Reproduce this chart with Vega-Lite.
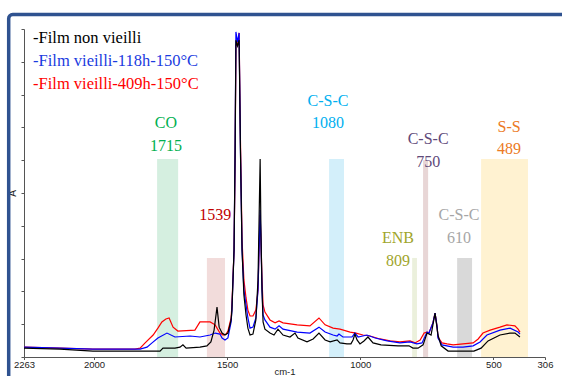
{
  "$schema": "https://vega.github.io/schema/vega-lite/v6.json",
  "width": 521,
  "height": 328,
  "autosize": {"type": "none"},
  "padding": {"left": 24, "top": 29, "right": 17, "bottom": 19},
  "background": "white",
  "config": {
    "view": {"stroke": null},
    "font": "Liberation Sans",
    "axisX": {"format": "d", "grid": false,
      "labelFont": "Liberation Sans", "labelFontSize": 9.5, "labelColor": "#222222", "labelFlush": false, "labelPadding": 0, "labelOverlap": false,
      "tickSize": 2.5, "tickColor": "#555555", "domainColor": "#555555",
      "titleFont": "Liberation Sans", "titleFontSize": 9.5, "titleFontWeight": "normal", "titleColor": "#222222", "titlePadding": -3},
    "axisY": {"labels": false, "grid": false,
      "tickSize": 3, "tickColor": "#555555", "domainColor": "#555555",
      "titleFont": "Liberation Sans", "titleFontSize": 10, "titleFontWeight": "normal", "titleColor": "#222222", "titlePadding": 3}
  },
  "datasets": {
    "spectra": [
      {"w":2263,"a":0.030,"s":"409h"},{"w":2128,"a":0.027,"s":"409h"},{"w":2004,"a":0.024,"s":"409h"},{"w":1846,"a":0.024,"s":"409h"},{"w":1827,"a":0.027,"s":"409h"},{"w":1808,"a":0.043,"s":"409h"},{"w":1778,"a":0.067,"s":"409h"},{"w":1760,"a":0.088,"s":"409h"},{"w":1745,"a":0.107,"s":"409h"},{"w":1730,"a":0.116,"s":"409h"},{"w":1718,"a":0.119,"s":"409h"},{"w":1703,"a":0.091,"s":"409h"},{"w":1685,"a":0.079,"s":"409h"},{"w":1621,"a":0.082,"s":"409h"},{"w":1602,"a":0.107,"s":"409h"},{"w":1564,"a":0.107,"s":"409h"},{"w":1545,"a":0.098,"s":"409h"},{"w":1527,"a":0.073,"s":"409h"},{"w":1515,"a":0.067,"s":"409h"},{"w":1504,"a":0.070,"s":"409h"},{"w":1497,"a":0.079,"s":"409h"},{"w":1485,"a":0.119,"s":"409h"},{"w":1482,"a":0.159,"s":"409h"},{"w":1474,"a":0.326,"s":"409h"},{"w":1470,"a":0.601,"s":"409h"},{"w":1467,"a":0.951,"s":"409h"},{"w":1461,"a":0.951,"s":"409h"},{"w":1455,"a":0.988,"s":"409h"},{"w":1450,"a":0.662,"s":"409h"},{"w":1444,"a":0.357,"s":"409h"},{"w":1437,"a":0.235,"s":"409h"},{"w":1429,"a":0.180,"s":"409h"},{"w":1422,"a":0.143,"s":"409h"},{"w":1414,"a":0.125,"s":"409h"},{"w":1403,"a":0.125,"s":"409h"},{"w":1392,"a":0.143,"s":"409h"},{"w":1384,"a":0.204,"s":"409h"},{"w":1380,"a":0.326,"s":"409h"},{"w":1376,"a":0.433,"s":"409h"},{"w":1373,"a":0.357,"s":"409h"},{"w":1369,"a":0.235,"s":"409h"},{"w":1365,"a":0.159,"s":"409h"},{"w":1358,"a":0.137,"s":"409h"},{"w":1339,"a":0.113,"s":"409h"},{"w":1320,"a":0.104,"s":"409h"},{"w":1305,"a":0.110,"s":"409h"},{"w":1290,"a":0.104,"s":"409h"},{"w":1237,"a":0.098,"s":"409h"},{"w":1189,"a":0.095,"s":"409h"},{"w":1155,"a":0.119,"s":"409h"},{"w":1132,"a":0.098,"s":"409h"},{"w":1102,"a":0.088,"s":"409h"},{"w":1076,"a":0.085,"s":"409h"},{"w":1038,"a":0.076,"s":"409h"},{"w":1016,"a":0.073,"s":"409h"},{"w":990,"a":0.067,"s":"409h"},{"w":963,"a":0.064,"s":"409h"},{"w":926,"a":0.055,"s":"409h"},{"w":888,"a":0.049,"s":"409h"},{"w":851,"a":0.046,"s":"409h"},{"w":813,"a":0.049,"s":"409h"},{"w":794,"a":0.043,"s":"409h"},{"w":775,"a":0.052,"s":"409h"},{"w":760,"a":0.073,"s":"409h"},{"w":749,"a":0.076,"s":"409h"},{"w":742,"a":0.073,"s":"409h"},{"w":727,"a":0.104,"s":"409h"},{"w":719,"a":0.134,"s":"409h"},{"w":711,"a":0.091,"s":"409h"},{"w":708,"a":0.061,"s":"409h"},{"w":693,"a":0.043,"s":"409h"},{"w":674,"a":0.040,"s":"409h"},{"w":651,"a":0.037,"s":"409h"},{"w":614,"a":0.040,"s":"409h"},{"w":576,"a":0.043,"s":"409h"},{"w":557,"a":0.055,"s":"409h"},{"w":539,"a":0.073,"s":"409h"},{"w":512,"a":0.082,"s":"409h"},{"w":475,"a":0.091,"s":"409h"},{"w":449,"a":0.098,"s":"409h"},{"w":419,"a":0.095,"s":"409h"},{"w":407,"a":0.085,"s":"409h"},{"w":400,"a":0.076,"s":"409h"},
      {"w":2263,"a":0.030,"s":"118h"},{"w":2128,"a":0.027,"s":"118h"},{"w":2004,"a":0.024,"s":"118h"},{"w":1827,"a":0.024,"s":"118h"},{"w":1801,"a":0.030,"s":"118h"},{"w":1782,"a":0.043,"s":"118h"},{"w":1760,"a":0.058,"s":"118h"},{"w":1726,"a":0.073,"s":"118h"},{"w":1696,"a":0.061,"s":"118h"},{"w":1639,"a":0.064,"s":"118h"},{"w":1602,"a":0.061,"s":"118h"},{"w":1564,"a":0.067,"s":"118h"},{"w":1545,"a":0.073,"s":"118h"},{"w":1527,"a":0.070,"s":"118h"},{"w":1519,"a":0.058,"s":"118h"},{"w":1508,"a":0.052,"s":"118h"},{"w":1497,"a":0.058,"s":"118h"},{"w":1485,"a":0.107,"s":"118h"},{"w":1482,"a":0.143,"s":"118h"},{"w":1474,"a":0.326,"s":"118h"},{"w":1470,"a":0.631,"s":"118h"},{"w":1467,"a":0.991,"s":"118h"},{"w":1461,"a":0.960,"s":"118h"},{"w":1455,"a":0.988,"s":"118h"},{"w":1450,"a":0.631,"s":"118h"},{"w":1444,"a":0.326,"s":"118h"},{"w":1437,"a":0.204,"s":"118h"},{"w":1429,"a":0.159,"s":"118h"},{"w":1422,"a":0.119,"s":"118h"},{"w":1414,"a":0.088,"s":"118h"},{"w":1403,"a":0.091,"s":"118h"},{"w":1392,"a":0.119,"s":"118h"},{"w":1384,"a":0.204,"s":"118h"},{"w":1380,"a":0.326,"s":"118h"},{"w":1376,"a":0.448,"s":"118h"},{"w":1373,"a":0.357,"s":"118h"},{"w":1369,"a":0.204,"s":"118h"},{"w":1365,"a":0.128,"s":"118h"},{"w":1358,"a":0.113,"s":"118h"},{"w":1339,"a":0.091,"s":"118h"},{"w":1320,"a":0.085,"s":"118h"},{"w":1305,"a":0.095,"s":"118h"},{"w":1290,"a":0.085,"s":"118h"},{"w":1237,"a":0.076,"s":"118h"},{"w":1189,"a":0.073,"s":"118h"},{"w":1155,"a":0.091,"s":"118h"},{"w":1132,"a":0.076,"s":"118h"},{"w":1102,"a":0.067,"s":"118h"},{"w":1087,"a":0.064,"s":"118h"},{"w":1080,"a":0.070,"s":"118h"},{"w":1065,"a":0.061,"s":"118h"},{"w":1031,"a":0.061,"s":"118h"},{"w":1020,"a":0.073,"s":"118h"},{"w":1008,"a":0.061,"s":"118h"},{"w":975,"a":0.067,"s":"118h"},{"w":944,"a":0.058,"s":"118h"},{"w":899,"a":0.049,"s":"118h"},{"w":851,"a":0.043,"s":"118h"},{"w":813,"a":0.046,"s":"118h"},{"w":787,"a":0.040,"s":"118h"},{"w":768,"a":0.043,"s":"118h"},{"w":749,"a":0.076,"s":"118h"},{"w":742,"a":0.073,"s":"118h"},{"w":727,"a":0.104,"s":"118h"},{"w":719,"a":0.134,"s":"118h"},{"w":711,"a":0.091,"s":"118h"},{"w":708,"a":0.058,"s":"118h"},{"w":693,"a":0.037,"s":"118h"},{"w":651,"a":0.030,"s":"118h"},{"w":614,"a":0.030,"s":"118h"},{"w":576,"a":0.034,"s":"118h"},{"w":550,"a":0.046,"s":"118h"},{"w":524,"a":0.067,"s":"118h"},{"w":475,"a":0.082,"s":"118h"},{"w":437,"a":0.088,"s":"118h"},{"w":407,"a":0.076,"s":"118h"},{"w":400,"a":0.070,"s":"118h"},
      {"w":2263,"a":0.027,"s":"0h"},{"w":2128,"a":0.024,"s":"0h"},{"w":2004,"a":0.018,"s":"0h"},{"w":1752,"a":0.018,"s":"0h"},{"w":1741,"a":0.027,"s":"0h"},{"w":1696,"a":0.027,"s":"0h"},{"w":1677,"a":0.030,"s":"0h"},{"w":1666,"a":0.037,"s":"0h"},{"w":1654,"a":0.027,"s":"0h"},{"w":1602,"a":0.030,"s":"0h"},{"w":1576,"a":0.034,"s":"0h"},{"w":1561,"a":0.046,"s":"0h"},{"w":1549,"a":0.082,"s":"0h"},{"w":1538,"a":0.152,"s":"0h"},{"w":1530,"a":0.091,"s":"0h"},{"w":1519,"a":0.073,"s":"0h"},{"w":1508,"a":0.067,"s":"0h"},{"w":1497,"a":0.073,"s":"0h"},{"w":1485,"a":0.113,"s":"0h"},{"w":1482,"a":0.143,"s":"0h"},{"w":1474,"a":0.326,"s":"0h"},{"w":1470,"a":0.631,"s":"0h"},{"w":1467,"a":0.966,"s":"0h"},{"w":1461,"a":0.948,"s":"0h"},{"w":1455,"a":0.966,"s":"0h"},{"w":1450,"a":0.631,"s":"0h"},{"w":1444,"a":0.326,"s":"0h"},{"w":1437,"a":0.189,"s":"0h"},{"w":1429,"a":0.128,"s":"0h"},{"w":1422,"a":0.088,"s":"0h"},{"w":1414,"a":0.067,"s":"0h"},{"w":1403,"a":0.070,"s":"0h"},{"w":1392,"a":0.113,"s":"0h"},{"w":1384,"a":0.235,"s":"0h"},{"w":1380,"a":0.418,"s":"0h"},{"w":1376,"a":0.604,"s":"0h"},{"w":1373,"a":0.387,"s":"0h"},{"w":1369,"a":0.204,"s":"0h"},{"w":1365,"a":0.107,"s":"0h"},{"w":1358,"a":0.085,"s":"0h"},{"w":1339,"a":0.073,"s":"0h"},{"w":1324,"a":0.067,"s":"0h"},{"w":1309,"a":0.085,"s":"0h"},{"w":1290,"a":0.067,"s":"0h"},{"w":1264,"a":0.061,"s":"0h"},{"w":1245,"a":0.073,"s":"0h"},{"w":1234,"a":0.058,"s":"0h"},{"w":1200,"a":0.046,"s":"0h"},{"w":1177,"a":0.055,"s":"0h"},{"w":1155,"a":0.073,"s":"0h"},{"w":1132,"a":0.052,"s":"0h"},{"w":1113,"a":0.046,"s":"0h"},{"w":1087,"a":0.052,"s":"0h"},{"w":1076,"a":0.043,"s":"0h"},{"w":1050,"a":0.040,"s":"0h"},{"w":1035,"a":0.040,"s":"0h"},{"w":1027,"a":0.052,"s":"0h"},{"w":1020,"a":0.070,"s":"0h"},{"w":1012,"a":0.052,"s":"0h"},{"w":1001,"a":0.040,"s":"0h"},{"w":986,"a":0.049,"s":"0h"},{"w":971,"a":0.061,"s":"0h"},{"w":952,"a":0.043,"s":"0h"},{"w":922,"a":0.037,"s":"0h"},{"w":858,"a":0.034,"s":"0h"},{"w":817,"a":0.034,"s":"0h"},{"w":802,"a":0.027,"s":"0h"},{"w":783,"a":0.027,"s":"0h"},{"w":764,"a":0.037,"s":"0h"},{"w":749,"a":0.073,"s":"0h"},{"w":734,"a":0.067,"s":"0h"},{"w":719,"a":0.134,"s":"0h"},{"w":708,"a":0.067,"s":"0h"},{"w":696,"a":0.034,"s":"0h"},{"w":670,"a":0.018,"s":"0h"},{"w":614,"a":0.018,"s":"0h"},{"w":573,"a":0.018,"s":"0h"},{"w":546,"a":0.027,"s":"0h"},{"w":520,"a":0.049,"s":"0h"},{"w":475,"a":0.067,"s":"0h"},{"w":437,"a":0.073,"s":"0h"},{"w":419,"a":0.073,"s":"0h"},{"w":400,"a":0.061,"s":"0h"}
    ],
    "bands": [
      {"w1":1763,"w2":1684,"top":0.604,"g":"CO"},
      {"w1":1576,"w2":1508,"top":0.302,"g":"1539"},
      {"w1":1117,"w2":1061,"top":0.604,"g":"C-S-C 1080"},
      {"w1":805,"w2":787,"top":0.302,"g":"ENB"},
      {"w1":764,"w2":745,"top":0.600,"g":"C-S-C 750"},
      {"w1":636,"w2":580,"top":0.302,"g":"C-S-C 610"},
      {"w1":546,"w2":370,"top":0.604,"g":"S-S"}
    ],
    "labels": [
      {"w":1730,"a":0.698,"t":"CO","g":"CO"},
      {"w":1730,"a":0.628,"t":"1715","g":"CO"},
      {"w":1545,"a":0.418,"t":"1539","g":"1539"},
      {"w":1121,"a":0.765,"t":"C-S-C","g":"C-S-C 1080"},
      {"w":1121,"a":0.698,"t":"1080","g":"C-S-C 1080"},
      {"w":858,"a":0.348,"t":"ENB","g":"ENB"},
      {"w":858,"a":0.277,"t":"809","g":"ENB"},
      {"w":745,"a":0.649,"t":"C-S-C","g":"C-S-C 750"},
      {"w":745,"a":0.579,"t":"750","g":"C-S-C 750"},
      {"w":629,"a":0.418,"t":"C-S-C","g":"C-S-C 610"},
      {"w":629,"a":0.348,"t":"610","g":"C-S-C 610"},
      {"w":441,"a":0.686,"t":"S-S","g":"S-S"},
      {"w":441,"a":0.619,"t":"489","g":"S-S"}
    ],
    "legendrows": [
      {"a":0.957,"t":"-Film non vieilli","s":"0h"},
      {"a":0.887,"t":"-Film vieilli-118h-150°C","s":"118h"},
      {"a":0.817,"t":"-Film vieilli-409h-150°C","s":"409h"}
    ]
  },
  "layer": [
    {
      "data": {"values": [{}]},
      "mark": {"type": "rect", "fill": "white", "fillOpacity": 0, "stroke": "#2F5290", "strokeWidth": 3.5, "cornerRadius": 4, "clip": false},
      "encoding": {
        "x": {"datum": 2320.5, "type": "quantitative", "scale": {"domain": [2263, 306], "nice": false, "zero": false}, "axis": {"values": [2263, 2000, 1500, 1000, 500, 306], "title": "cm-1"}},
        "x2": {"datum": 100},
        "y": {"datum": 1.044, "type": "quantitative", "scale": {"domain": [0, 1], "nice": false, "zero": false}, "axis": {"values": [0, 0.1, 0.2, 0.3, 0.4, 0.5, 0.6, 0.7, 0.8, 0.9, 1], "title": "A"}},
        "y2": {"datum": -0.3}
      }
    },
    {
      "data": {"name": "bands"},
      "mark": {"type": "rect"},
      "encoding": {
        "x": {"field": "w1", "type": "quantitative", "scale": {"domain": [2263, 306], "nice": false, "zero": false}, "axis": {"values": [2263, 2000, 1500, 1000, 500, 306], "title": "cm-1"}},
        "x2": {"field": "w2"},
        "y": {"field": "top", "type": "quantitative", "scale": {"domain": [0, 1], "nice": false, "zero": false}, "axis": {"values": [0, 0.1, 0.2, 0.3, 0.4, 0.5, 0.6, 0.7, 0.8, 0.9, 1], "title": "A"}},
        "y2": {"datum": 0},
        "color": {"field": "g", "type": "nominal", "legend": null,
          "scale": {"domain": ["CO", "1539", "C-S-C 1080", "ENB", "C-S-C 750", "C-S-C 610", "S-S"],
                    "range": ["#D5EFE0", "#F2DCDB", "#D3EFFA", "#EBF0DC", "#E8D6D6", "#D9D9D9", "#FFF2D1"]}}
      }
    },
    {
      "data": {"name": "spectra"},
      "mark": {"type": "line", "strokeWidth": 1.2},
      "encoding": {
        "x": {"field": "w", "type": "quantitative", "scale": {"domain": [2263, 306], "nice": false, "zero": false}, "axis": {"values": [2263, 2000, 1500, 1000, 500, 306], "title": "cm-1"}},
        "y": {"field": "a", "type": "quantitative", "scale": {"domain": [0, 1], "nice": false, "zero": false}, "axis": {"values": [0, 0.1, 0.2, 0.3, 0.4, 0.5, 0.6, 0.7, 0.8, 0.9, 1], "title": "A"}},
        "color": {"field": "s", "type": "nominal", "legend": null,
          "scale": {"domain": ["409h", "118h", "0h"], "range": ["#FF0000", "#0000FF", "#000000"]}},
        "order": {"field": "w", "type": "quantitative"}
      }
    },
    {
      "data": {"name": "labels"},
      "mark": {"type": "text", "font": "Liberation Serif", "fontSize": 16, "align": "center", "baseline": "alphabetic"},
      "encoding": {
        "x": {"field": "w", "type": "quantitative", "scale": {"domain": [2263, 306], "nice": false, "zero": false}, "axis": {"values": [2263, 2000, 1500, 1000, 500, 306], "title": "cm-1"}},
        "y": {"field": "a", "type": "quantitative", "scale": {"domain": [0, 1], "nice": false, "zero": false}, "axis": {"values": [0, 0.1, 0.2, 0.3, 0.4, 0.5, 0.6, 0.7, 0.8, 0.9, 1], "title": "A"}},
        "text": {"field": "t"},
        "color": {"field": "g", "type": "nominal", "legend": null,
          "scale": {"domain": ["CO", "1539", "C-S-C 1080", "ENB", "C-S-C 750", "C-S-C 610", "S-S"],
                    "range": ["#00B050", "#C00000", "#00B0F0", "#9FA52C", "#5F4A7A", "#A6A6A6", "#EC7A24"]}}
      }
    },
    {
      "data": {"name": "legendrows"},
      "mark": {"type": "text", "font": "Liberation Serif", "fontSize": 16.5, "align": "left", "baseline": "alphabetic"},
      "encoding": {
        "x": {"datum": 2229, "type": "quantitative", "scale": {"domain": [2263, 306], "nice": false, "zero": false}, "axis": {"values": [2263, 2000, 1500, 1000, 500, 306], "title": "cm-1"}},
        "y": {"field": "a", "type": "quantitative", "scale": {"domain": [0, 1], "nice": false, "zero": false}, "axis": {"values": [0, 0.1, 0.2, 0.3, 0.4, 0.5, 0.6, 0.7, 0.8, 0.9, 1], "title": "A"}},
        "text": {"field": "t"},
        "color": {"field": "s", "type": "nominal", "legend": null,
          "scale": {"domain": ["409h", "118h", "0h"], "range": ["#FF0000", "#1A3BE0", "#000000"]}}
      }
    }
  ],
  "resolve": {"scale": {"color": "independent"}}
}
